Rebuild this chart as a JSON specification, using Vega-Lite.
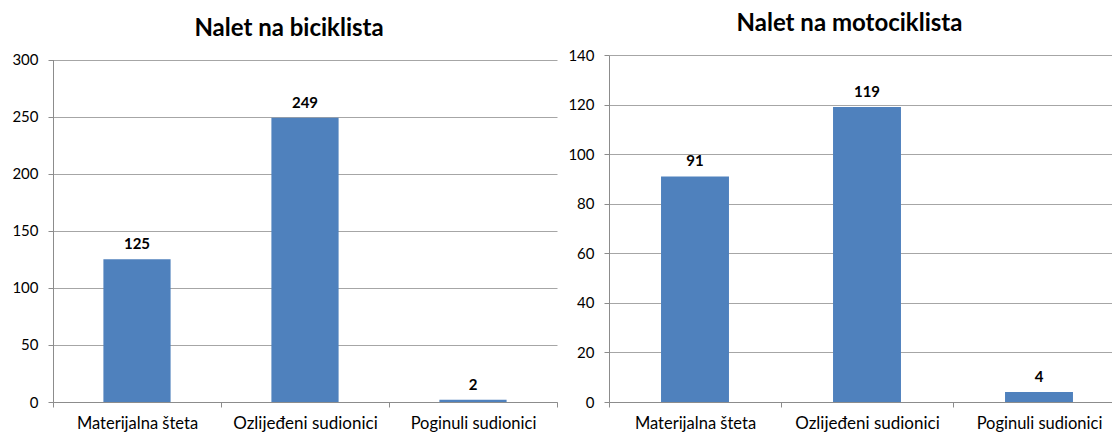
{
  "$schema": "https://vega.github.io/schema/vega-lite/v6.json",
  "autosize": {"type": "pad"},
  "padding": {"left": 11, "top": 12, "right": 0, "bottom": 0},
  "background": "white",
  "bounds": "flush",
  "spacing": 52,
  "config": {
    "font": "Lato",
    "view": {"stroke": null},
    "axis": {
      "domainColor": "#8c8c8c",
      "tickColor": "#8c8c8c",
      "gridColor": "#a6a6a6",
      "labelColor": "#000000",
      "labelFont": "Lato",
      "tickSize": 5,
      "domainWidth": 1,
      "gridWidth": 1,
      "title": null
    }
  },
  "datasets": {
    "bic": [
      {"kat": "Materijalna šteta", "broj": 125},
      {"kat": "Ozlijeđeni sudionici", "broj": 249},
      {"kat": "Poginuli sudionici", "broj": 2}
    ],
    "moto": [
      {"kat": "Materijalna šteta", "broj": 91},
      {"kat": "Ozlijeđeni sudionici", "broj": 119},
      {"kat": "Poginuli sudionici", "broj": 4}
    ]
  },
  "hconcat": [
    {
      "width": 504,
      "height": 347,
      "title": {"text": "Nalet na biciklista", "fontSize": 24, "font": "Lato", "fontWeight": "bold", "color": "#000000", "anchor": "middle", "offset": 12, "dx": -16},
      "data": {"name": "bic"},
      "encoding": {
        "x": {
          "field": "kat", "type": "nominal", "sort": null,
          "scale": {"paddingInner": 0, "paddingOuter": 0},
          "axis": {"labelAngle": 0, "tickBand": "extent", "grid": false, "labelPadding": 8,
            "labelFontSize": {"condition": {"test": "datum.label == 'Ozlijeđeni sudionici'", "value": 17}, "value": 16.5}}
        },
        "y": {
          "field": "broj", "type": "quantitative",
          "scale": {"domain": [0, 300], "range": [347, 4.5], "nice": false, "zero": true},
          "axis": {"values": [0, 50, 100, 150, 200, 250, 300], "grid": true, "labelFontSize": 15, "labelPadding": 10}
        }
      },
      "layer": [
        {"mark": {"type": "bar", "color": "#4F81BD", "width": {"band": 0.4}}},
        {"mark": {"type": "text", "baseline": "alphabetic", "dy": -10, "fontWeight": "bold", "fontSize": 15, "font": "Lato", "color": "#000000"},
         "encoding": {"text": {"field": "broj", "type": "quantitative"}}}
      ]
    },
    {
      "width": 505,
      "height": 347,
      "title": {"text": "Nalet na motociklista", "fontSize": 24, "font": "Lato", "fontWeight": "bold", "color": "#000000", "anchor": "middle", "offset": 12, "dx": -12},
      "data": {"name": "moto"},
      "encoding": {
        "x": {
          "field": "kat", "type": "nominal", "sort": null,
          "scale": {"paddingInner": 0, "paddingOuter": 0, "range": [0, 516]},
          "axis": {"labelAngle": 0, "tickBand": "extent", "grid": false, "labelPadding": 8,
            "labelFontSize": {"condition": {"test": "datum.label == 'Ozlijeđeni sudionici'", "value": 17}, "value": 16.5}}
        },
        "y": {
          "field": "broj", "type": "quantitative",
          "scale": {"domain": [0, 140], "range": [347, 0], "nice": false, "zero": true},
          "axis": {"values": [0, 20, 40, 60, 80, 100, 120, 140], "grid": true, "labelFontSize": 15, "labelPadding": 10}
        }
      },
      "layer": [
        {"mark": {"type": "bar", "color": "#4F81BD", "width": {"band": 0.395}}},
        {"mark": {"type": "text", "baseline": "alphabetic", "dy": -10, "fontWeight": "bold", "fontSize": 15, "font": "Lato", "color": "#000000"},
         "encoding": {"text": {"field": "broj", "type": "quantitative"}}}
      ]
    }
  ]
}
